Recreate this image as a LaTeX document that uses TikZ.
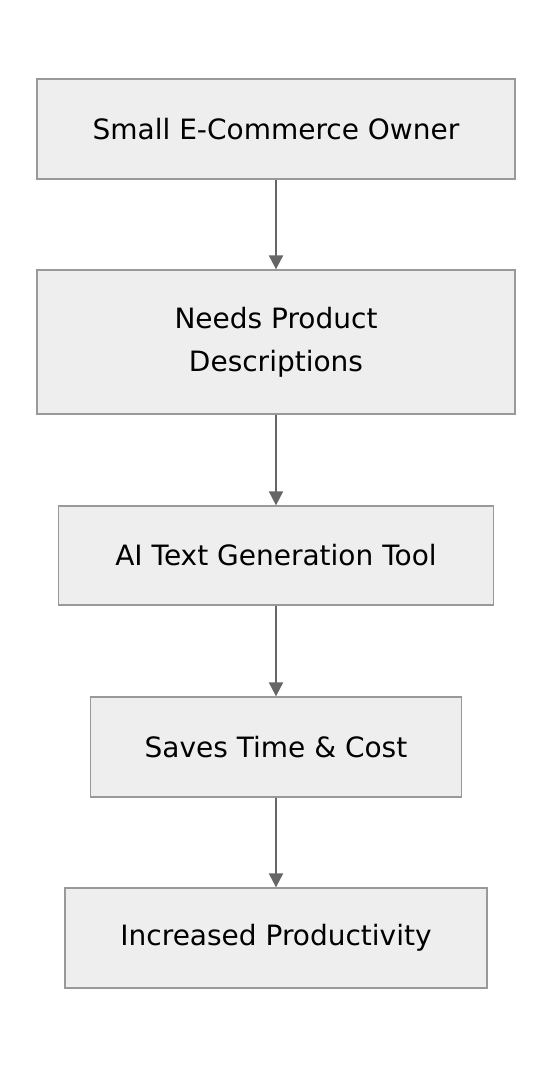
\documentclass[tikz,border=0pt]{standalone}
\usepackage{fontspec}
\setmainfont{DejaVu Sans}
\usetikzlibrary{arrows.meta}
\definecolor{boxfill}{HTML}{EEEEEE}
\definecolor{boxline}{HTML}{999999}
\definecolor{arrowc}{HTML}{666666}
\tikzset{
  flowbox/.style={draw=boxline, fill=boxfill, line width=1.3pt, inner sep=0pt, align=center, font=\fontsize{28}{43}\selectfont},
  flowarrow/.style={draw=arrowc, line width=2pt, -{Triangle[length=14pt,width=14pt]}}
}
\begin{document}
\begin{tikzpicture}[x=1pt,y=-1pt]
\useasboundingbox (0,0) rectangle (552,1068);
\node[flowbox, minimum width=478pt, minimum height=100pt] (a) at (276,129) {Small E-Commerce Owner};
\node[flowbox, minimum width=478pt, minimum height=144pt] (b) at (276,342) {Needs Product\\Descriptions};
\node[flowbox, minimum width=435pt, minimum height=99pt] (c) at (276,555.5) {AI Text Generation Tool};
\node[flowbox, minimum width=371pt, minimum height=100pt] (d) at (276,747) {Saves Time \& Cost};
\node[flowbox, minimum width=422pt, minimum height=100pt] (e) at (276,938) {Increased Productivity};
\draw[flowarrow] (a) -- (b);
\draw[flowarrow] (b) -- (c);
\draw[flowarrow] (c) -- (d);
\draw[flowarrow] (d) -- (e);
\end{tikzpicture}
\end{document}
